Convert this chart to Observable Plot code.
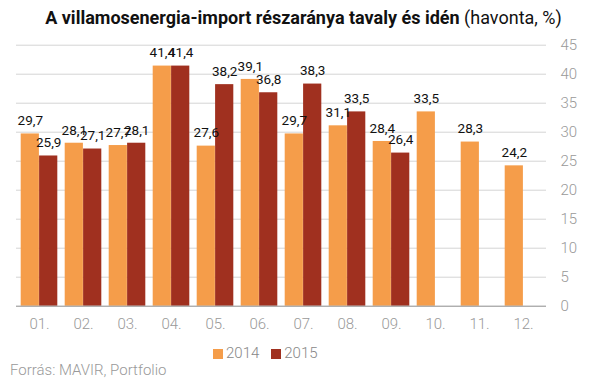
<!DOCTYPE html>
<html>
<head>
<meta charset="utf-8">
<script src="https://cdn.jsdelivr.net/npm/d3@7"></script>
<script src="https://cdn.jsdelivr.net/npm/@observablehq/plot@0.6"></script>
<style>
  html, body { margin: 0; padding: 0; background: #fff; width: 607px; height: 380px; overflow: hidden; position: relative; font-family: Roboto, "Noto Sans", sans-serif; }
  #title { position: absolute; top: 6px; left: 0; width: 607px; text-align: center; white-space: nowrap; font-size: 18px; color: #111; line-height: 24px; }
  #title span.t { display: inline-block; transform-origin: center center; }
  #title b { font-weight: 700; }
  #title .r { font-weight: 400; }
  #chart { position: absolute; top: 30px; left: 0; }
  #legend { position: absolute; top: 344px; left: 213px; font-size: 15px; font-weight: 300; color: #888; line-height: 18px; white-space: nowrap; }
  #legend .item { display: inline-block; margin-right: 12px; }
  #legend .sw { display: inline-block; width: 10px; height: 10px; margin-right: 3px; vertical-align: -1px; }
  #caption { position: absolute; top: 361px; left: 10px; font-size: 15px; font-weight: 300; color: #999; line-height: 18px; white-space: nowrap; }
</style>
</head>
<body>
<div id="title"><span class="t"><b>A villamosenergia-import részaránya tavaly és idén</b><span class="r"> (havonta, %)</span></span></div>
<div id="chart"></div>
<div id="legend"></div>
<div id="caption">Forrás: MAVIR, Portfolio</div>
<script>
const months = ["01.", "02.", "03.", "04.", "05.", "06.", "07.", "08.", "09.", "10.", "11.", "12."];
const values2014 = [29.7, 28.1, 27.7, 41.4, 27.6, 39.1, 29.7, 31.1, 28.4, 33.5, 28.3, 24.2];
const values2015 = [25.9, 27.1, 28.1, 41.4, 38.2, 36.8, 38.3, 33.5, 26.4];
const yTicks = [0, 5, 10, 15, 20, 25, 30, 35, 40, 45];
const seriesNames = ["2014", "2015"];
const colors = ["#f59d4a", "#a0301f"];

const d2014 = values2014.map((v, i) => ({month: months[i], value: v}));
const d2015 = values2015.map((v, i) => ({month: months[i], value: v}));
const fmt = v => v.toFixed(1).replace(".", ",");

const plot = Plot.plot({
  width: 607,
  height: 310,
  marginTop: 14.7,
  marginBottom: 34.3,
  marginLeft: 16,
  marginRight: 61,
  style: {color: "#999", fontFamily: "Roboto, sans-serif", background: "transparent"},
  x: {type: "band", domain: months, padding: 0},
  y: {domain: [0, 45]},
  marks: [
    Plot.ruleY(yTicks.filter(d => d > 0), {stroke: "#d4d4d4", strokeWidth: 1}),
    Plot.barY(d2014, {x: "month", y: "value", fill: colors[0], insetLeft: 3.7, insetRight: 22.1}),
    Plot.barY(d2015, {x: "month", y: "value", fill: colors[1], insetLeft: 22.1, insetRight: 3.7}),
    Plot.ruleY([0], {stroke: "#8c8c8c", strokeWidth: 1}),
    Plot.text(d2014, {x: "month", y: "value", text: d => fmt(d.value), dx: -9.2, dy: -13, fill: "#111", fontSize: 13.5, lineAnchor: "middle"}),
    Plot.text(d2015, {x: "month", y: "value", text: d => fmt(d.value), dx: 9.2, dy: -13, fill: "#111", fontSize: 13.5, lineAnchor: "middle"}),
    Plot.axisY({anchor: "right", ticks: yTicks, tickSize: 0, tickPadding: 14, fontSize: 15, fontWeight: 300, label: null}),
    Plot.axisX({anchor: "bottom", tickSize: 0, tickPadding: 12, fontSize: 15, fontWeight: 300, label: null})
  ]
});
document.getElementById("chart").appendChild(plot);

const legend = document.getElementById("legend");
seriesNames.forEach((name, i) => {
  const item = document.createElement("span");
  item.className = "item";
  const sw = document.createElement("span");
  sw.className = "sw";
  sw.style.background = colors[i];
  item.appendChild(sw);
  item.appendChild(document.createTextNode(name));
  legend.appendChild(item);
});

// condense title to fit the reference width
const t = document.querySelector("#title span.t");
const w = t.getBoundingClientRect().width;
const target = 540;
if (w > target) t.style.transform = `scaleX(${target / w})`;
</script>
</body>
</html>
